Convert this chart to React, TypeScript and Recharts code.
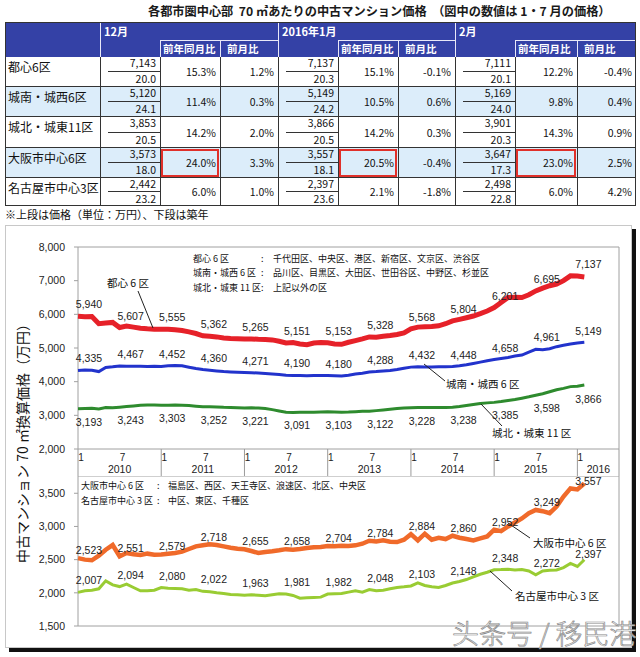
import React from 'react';
import { LineChart, Line, XAxis, YAxis, ReferenceArea } from 'recharts';

const JP = '"Noto Sans CJK JP", "Noto Sans", sans-serif';
const NUM = '"Liberation Sans", Arial, sans-serif';

// month index 0 = 2010-01 ... 73 = 2016-02
const monthLabels: string[] = [];
for (let y = 2010; y <= 2016; y++) {
  for (let m = 1; m <= 12; m++) {
    if (y === 2016 && m > 2) break;
    monthLabels.push(`${y}-${m}`);
  }
}

// 都心6区
const tokyo6 = [
  5940, 5925, 5935, 5720, 5740, 5760, 5607, 5650, 5620, 5585, 5570, 5560,
  5555, 5560, 5545, 5520, 5480, 5430, 5362, 5350, 5330, 5300, 5285, 5275,
  5265, 5270, 5260, 5255, 5240, 5200, 5151, 5160, 5120, 5100, 5150, 5160,
  5153, 5120, 5110, 5170, 5220, 5270, 5328, 5320, 5350, 5370, 5400, 5450,
  5568, 5620, 5630, 5640, 5660, 5720, 5804, 5850, 5900, 5950, 6020, 6100,
  6201, 6350, 6500, 6510, 6500, 6580, 6695, 6780, 6850, 6900, 7000, 7143,
  7137, 7111,
];
// 城南・城西6区
const jonan6 = [
  4335, 4350, 4340, 4300, 4420, 4440, 4467, 4460, 4455, 4460, 4450, 4455,
  4452, 4470, 4480, 4470, 4430, 4390, 4360, 4340, 4320, 4300, 4290, 4280,
  4271, 4265, 4255, 4240, 4225, 4210, 4190, 4185, 4180, 4178, 4185, 4182,
  4180, 4175, 4170, 4190, 4230, 4250, 4288, 4300, 4320, 4330, 4360, 4400,
  4432, 4440, 4438, 4435, 4440, 4445, 4448, 4470, 4500, 4540, 4580, 4620,
  4658, 4690, 4720, 4760, 4790, 4880, 4961, 4950, 4980, 5040, 5080, 5120,
  5149, 5169,
];
// 城北・城東11区
const johoku11 = [
  3193, 3200, 3210, 3190, 3230, 3225, 3243, 3260, 3280, 3300, 3310, 3305,
  3303, 3300, 3305, 3300, 3290, 3270, 3252, 3255, 3250, 3240, 3235, 3228,
  3221, 3225, 3215, 3200, 3170, 3130, 3091, 3085, 3088, 3092, 3095, 3100,
  3103, 3100, 3095, 3100, 3110, 3118, 3122, 3140, 3160, 3180, 3200, 3215,
  3228, 3230, 3232, 3235, 3233, 3236, 3238, 3260, 3290, 3320, 3350, 3370,
  3385, 3410, 3440, 3470, 3510, 3550, 3598, 3640, 3700, 3760, 3800, 3853,
  3866, 3901,
];
// 大阪市中心6区
const osaka6 = [
  2523, 2500, 2490, 2560, 2650, 2720, 2551, 2600, 2580, 2570, 2590, 2575,
  2579, 2590, 2600, 2620, 2660, 2700, 2718, 2730, 2720, 2700, 2680, 2665,
  2655, 2630, 2600, 2615, 2625, 2640, 2658, 2650, 2660, 2675, 2685, 2690,
  2704, 2700, 2710, 2705, 2715, 2740, 2784, 2775, 2790, 2770, 2765, 2800,
  2884, 2790, 2890, 2800, 2830, 2810, 2860, 2830, 2810, 2790, 2820, 2850,
  2952, 2930, 3000, 3060, 3120, 3200, 3249, 3230, 3200, 3300, 3450, 3573,
  3557, 3647,
];
// 名古屋市中心3区
const nagoya3 = [
  2007, 2030, 2040, 2060, 2180, 2120, 2094, 2130, 2080, 2030, 2030, 2040,
  2080, 2070, 2065, 2060, 2040, 2050, 2022, 2015, 2000, 1990, 1975, 1970,
  1963, 1970, 1965, 1955, 1970, 1985, 1981, 1960, 1920, 1925, 1930, 1935,
  1982, 1985, 1990, 2010, 2030, 2010, 2048, 2030, 2040, 2060, 2080, 2090,
  2103, 2150, 2110, 2090, 2080, 2110, 2148, 2170, 2200, 2240, 2280, 2310,
  2348, 2350, 2355, 2345, 2350, 2330, 2272, 2330, 2340, 2345, 2380, 2442,
  2397, 2498,
];

const upperTicks = [2000, 3000, 4000, 5000, 6000, 7000, 8000];
const lowerTicks = [1500, 2000, 2500, 3000, 3500];
const monthTicks = [0, 6, 12, 18, 24, 30, 36, 42, 48, 54, 60, 66, 72, 78];

// table
const areaNames = ['都心6区', '城南・城西6区', '城北・城東11区', '大阪市中心6区', '名古屋市中心3区'];
const periods = ['12月', '2016年1月', '2月'];
const prices = [
  [7143, 5120, 3853, 3573, 2442],
  [7137, 5149, 3866, 3557, 2397],
  [7111, 5169, 3901, 3647, 2498],
];
const ages = [
  ['20.0', '24.1', '20.5', '18.0', '23.2'],
  ['20.3', '24.2', '20.5', '18.1', '23.6'],
  ['20.1', '24.0', '20.3', '17.3', '22.8'],
];
const yoy = [
  ['15.3%', '11.4%', '14.2%', '24.0%', '6.0%'],
  ['15.1%', '10.5%', '14.2%', '20.5%', '2.1%'],
  ['12.2%', '9.8%', '14.3%', '23.0%', '6.0%'],
];
const mom = [
  ['1.2%', '0.3%', '2.0%', '3.3%', '1.0%'],
  ['-0.1%', '0.6%', '0.3%', '-0.4%', '-1.8%'],
  ['-0.4%', '0.4%', '0.9%', '2.5%', '4.2%'],
];

const upperData = monthLabels.map((label, i) => ({
  m: i, label, tokyo: tokyo6[i], jonan: jonan6[i], johoku: johoku11[i],
}));
const lowerData = monthLabels.map((label, i) => ({
  m: i, label, osaka: osaka6[i], nagoya: nagoya3[i],
}));

const fmt = (v: number) => v.toLocaleString('en-US');

function valueLabel(key: string, dy: number) {
  return (p: any) => {
    const { cx, cy, index, payload } = p;
    if (index % 6 !== 0 || index > 72) return <g key={`${key}-${index}`} />;
    return (
      <text key={`${key}-${index}`} x={cx + 11} y={cy + dy} textAnchor="middle"
        fontSize={10.5} fontFamily={NUM} fill="#222">
        {fmt(payload[key])}
      </text>
    );
  };
}

const BandTick = (p: any) => {
  const { x, y, payload } = p;
  const m = payload.value;
  const parts: React.ReactNode[] = [];
  if (m % 12 === 0 || m === 78) {
    parts.push(<line key="l" x1={x} y1={y} x2={x} y2={y + 27} stroke="#9a9a9a" />);
  }
  if (m < 78) {
    parts.push(
      <text key="t" x={x + 3} y={y + 11.5} textAnchor="middle" fontSize={10} fontFamily={NUM} fill="#222">
        {m % 12 === 0 ? '1' : '7'}
      </text>
    );
  }
  if (m % 12 === 6 && m < 78) {
    parts.push(
      <text key="y" x={x} y={y + 24} textAnchor="middle" fontSize={10.5} fontFamily={NUM} fill="#222">
        {2010 + (m - 6) / 12}
      </text>
    );
  }
  if (m === 72) {
    parts.push(
      <text key="y" x={x + 21} y={y + 24} textAnchor="middle" fontSize={10.5} fontFamily={NUM} fill="#222">
        2016
      </text>
    );
  }
  return <g>{parts}</g>;
};

const yTick = { fontSize: 10.5, fontFamily: NUM, fill: '#222' };

function Table() {
  const colX = [5, 100, 160, 220, 278, 338, 398, 455, 515, 577, 636];
  const rowY = [57, 87, 117, 148, 178, 206];
  const cells: React.ReactNode[] = [];
  const line = '1px solid #333';
  const hdr = { position: 'absolute' as const, color: '#fff', fontWeight: 700, fontFamily: JP, lineHeight: 1 };
  // header
  cells.push(<div key="hbg" style={{ position: 'absolute', left: 5, top: 22, width: 631, height: 35, background: '#3441a6' }} />);
  periods.forEach((p, g) => {
    const x0 = colX[1 + g * 3];
    cells.push(<div key={`p${g}`} style={{ ...hdr, left: x0 + 4, top: 26, fontSize: 11 }}>{p}</div>);
    cells.push(<div key={`gl${g}`} style={{ position: 'absolute', left: x0, top: 22, width: 1, height: 35, background: '#e8e8f8' }} />);
    const a = colX[2 + g * 3], b = colX[3 + g * 3], c = colX[4 + g * 3];
    cells.push(<div key={`hl${g}`} style={{ position: 'absolute', left: a, top: 40, width: c - a, height: 1, background: '#e8e8f8' }} />);
    cells.push(<div key={`va${g}`} style={{ position: 'absolute', left: a, top: 40, width: 1, height: 17, background: '#e8e8f8' }} />);
    cells.push(<div key={`vb${g}`} style={{ position: 'absolute', left: b, top: 40, width: 1, height: 17, background: '#e8e8f8' }} />);
    cells.push(<div key={`h1${g}`} style={{ ...hdr, left: a + 3, top: 44, fontSize: 10.5 }}>前年同月比</div>);
    cells.push(<div key={`h2${g}`} style={{ ...hdr, left: b + 7, top: 44, fontSize: 10.5 }}>前月比</div>);
  });
  // rows
  areaNames.forEach((name, r) => {
    const top = rowY[r], h = rowY[r + 1] - rowY[r];
    const bg = r === 1 || r === 3 ? '#dcedfa' : '#fff';
    cells.push(<div key={`rb${r}`} style={{ position: 'absolute', left: 5, top, width: 631, height: h, background: bg, borderBottom: line, boxSizing: 'border-box' }} />);
    cells.push(<div key={`rn${r}`} style={{ position: 'absolute', left: 8, top: top + 4, fontSize: 12, fontFamily: JP, color: '#111', lineHeight: 1 }}>{name}</div>);
    periods.forEach((_, g) => {
      const x0 = colX[1 + g * 3], a = colX[2 + g * 3], b = colX[3 + g * 3], c = colX[4 + g * 3];
      const mid = top + Math.round(h / 2);
      const txt = { position: 'absolute' as const, fontSize: 10.5, fontFamily: JP, color: '#111', textAlign: 'right' as const, lineHeight: 1 };
      cells.push(<div key={`pr${r}${g}`} style={{ ...txt, left: x0, width: a - x0 - 4, top: top + 1 }}>{fmt(prices[g][r])}</div>);
      cells.push(<div key={`ml${r}${g}`} style={{ position: 'absolute', left: x0 + 8, top: mid - 1, width: a - x0 - 8, height: 1, background: '#333' }} />);
      cells.push(<div key={`ag${r}${g}`} style={{ ...txt, left: x0, width: a - x0 - 4, top: mid + 2 }}>{ages[g][r]}</div>);
      cells.push(<div key={`yy${r}${g}`} style={{ ...txt, left: a, width: b - a - 4, top: mid - 5 }}>{yoy[g][r]}</div>);
      cells.push(<div key={`mm${r}${g}`} style={{ ...txt, left: b, width: c - b - 4, top: mid - 5 }}>{mom[g][r]}</div>);
      if (r === 3) {
        cells.push(<div key={`rd${g}`} style={{ position: 'absolute', left: a + 1, top: top + 1, width: b - a - 2, height: h - 2, border: '2px solid #e0302a', boxSizing: 'border-box' }} />);
      }
    });
  });
  // vertical lines in body
  colX.forEach((x, i) => {
    cells.push(<div key={`cv${i}`} style={{ position: 'absolute', left: i === colX.length - 1 ? x - 1 : x, top: 57, width: 1, height: 149, background: '#333' }} />);
  });
  cells.push(<div key="outer" style={{ position: 'absolute', left: 5, top: 22, width: 631, height: 184, border: line, boxSizing: 'border-box' }} />);
  return <>{cells}</>;
}

const txt = (left: number, top: number, s: string, size = 9, extra: React.CSSProperties = {}) => (
  <div style={{ position: 'absolute', left, top, fontSize: size, fontFamily: JP, color: '#111', whiteSpace: 'pre', lineHeight: 1, ...extra }}>{s}</div>
);

export default function App() {
  return (
    <div style={{ position: 'absolute', left: 0, top: 0, width: 640, height: 657, background: '#fff', overflow: 'hidden' }}>
      <div style={{ position: 'absolute', left: 148, top: 5, fontSize: 12.2, fontWeight: 700, fontFamily: JP, color: '#1a1a1a', whiteSpace: 'pre', lineHeight: 1 }}>
        各都市圏中心部  70 ㎡あたりの中古マンション価格  （図中の数値は 1・7 月の価格）
      </div>
      <Table />
      {txt(5, 209, '※上段は価格（単位：万円）、下段は築年', 11)}

      <div style={{ position: 'absolute', left: 5, top: 225, width: 627, height: 423, border: '1px solid #c8c8c8', boxSizing: 'border-box', boxShadow: '4px 4px 0 #111' }} />

      <div style={{ position: 'absolute', left: 0, top: 225 }}>
        <LineChart width={640} height={251} data={upperData} margin={{ top: 22, right: 21, bottom: 0, left: 0 }}>
          <ReferenceArea x1={0} x2={78} y1={2000} y2={8000} fill="none" stroke="#a0a0a0" ifOverflow="visible" />
          <XAxis dataKey="m" type="number" domain={[0, 78]} ticks={monthTicks} height={27}
            axisLine={false} tickLine={false} tickSize={0} tickMargin={0} tick={<BandTick />} interval={0} />
          <YAxis type="number" domain={[2000, 8000]} ticks={upperTicks} width={78} axisLine={false}
            tickSize={4} tickMargin={9} tickLine={{ stroke: '#a0a0a0' }} tick={yTick} tickFormatter={fmt} />
          <Line dataKey="johoku" stroke="#2e8b2e" strokeWidth={3} dot={valueLabel('johoku', 17)} isAnimationActive={false} />
          <Line dataKey="jonan" stroke="#2233cc" strokeWidth={3} dot={valueLabel('jonan', -8)} isAnimationActive={false} />
          <Line dataKey="tokyo" stroke="#e62129" strokeWidth={5} dot={valueLabel('tokyo', -8)} isAnimationActive={false} />
        </LineChart>
      </div>

      <div style={{ position: 'absolute', left: 0, top: 476 }}>
        <LineChart width={640} height={170} data={lowerData} margin={{ top: 0, right: 21, bottom: 20, left: 0 }}>
          <ReferenceArea x1={0} x2={78} y1={1500} y2={3760} fill="none" stroke="#a0a0a0" ifOverflow="visible" />
          <XAxis dataKey="m" type="number" domain={[0, 78]} hide />
          <YAxis type="number" domain={[1500, 3760]} ticks={lowerTicks} width={78} axisLine={false}
            tickSize={4} tickMargin={9} tickLine={{ stroke: '#a0a0a0' }} tick={yTick} tickFormatter={fmt} />
          <Line dataKey="nagoya" stroke="#99cc33" strokeWidth={3} dot={valueLabel('nagoya', -8)} isAnimationActive={false} />
          <Line dataKey="osaka" stroke="#f06a2a" strokeWidth={4.5} dot={valueLabel('osaka', -4)} isAnimationActive={false} />
        </LineChart>
      </div>

      {/* y axis title */}
      <div style={{ position: 'absolute', left: 22, top: 440, width: 0, height: 0 }}>
        <div style={{ position: 'absolute', left: 0, top: 0, transform: 'translate(-50%, -50%) rotate(-90deg)', fontSize: 14, fontFamily: JP, color: '#111', whiteSpace: 'pre' }}>
          中古マンション 70 ㎡換算価格（万円）
        </div>
      </div>

      {/* area legends */}
      {txt(193, 254, '都心 6 区')}
      {txt(193, 268, '城南・城西 6 区')}
      {txt(193, 283, '城北・城東 11 区')}
      {txt(261, 254, ':')}
      {txt(261, 268, ':')}
      {txt(261, 283, ':')}
      {txt(273, 254, '千代田区、中央区、港区、新宿区、文京区、渋谷区')}
      {txt(273, 268, '品川区、目黒区、大田区、世田谷区、中野区、杉並区')}
      {txt(273, 283, '上記以外の区')}
      {txt(81, 481, '大阪市中心 6 区')}
      {txt(81, 496, '名古屋市中心 3 区')}
      {txt(157, 481, ':')}
      {txt(157, 496, ':')}
      {txt(168, 481, '福島区、西区、天王寺区、浪速区、北区、中央区')}
      {txt(168, 496, '中区、東区、千種区')}

      {/* callouts */}
      {txt(107, 278, '都心 6 区', 10.5)}
      {txt(446, 379, '城南・城西 6 区', 10.5)}
      {txt(492, 428, '城北・城東 11 区', 10.5)}
      {txt(533, 538, '大阪市中心 6 区', 10.5)}
      {txt(515, 591, '名古屋市中心 3 区', 10.5)}
      <svg width={640} height={657} style={{ position: 'absolute', left: 0, top: 0, pointerEvents: 'none' }}>
        <g stroke="#222" strokeWidth={1}>
          <line x1={138} y1={291} x2={153} y2={328} />
          <line x1={424} y1={364} x2={445} y2={381} />
          <line x1={481} y1={404} x2={502} y2={426} />
          <line x1={508} y1={523} x2={530} y2={538} />
          <line x1={490} y1={571} x2={512} y2={591} />
        </g>
      </svg>

      <div style={{ position: 'absolute', left: 452, top: 619, fontSize: 27, fontFamily: '"Noto Sans CJK SC", sans-serif', fontWeight: 300, color: '#fff', WebkitTextStroke: '0.7px #888', whiteSpace: 'pre', lineHeight: 1 }}>
        头条号 / 移民港
      </div>
    </div>
  );
}
